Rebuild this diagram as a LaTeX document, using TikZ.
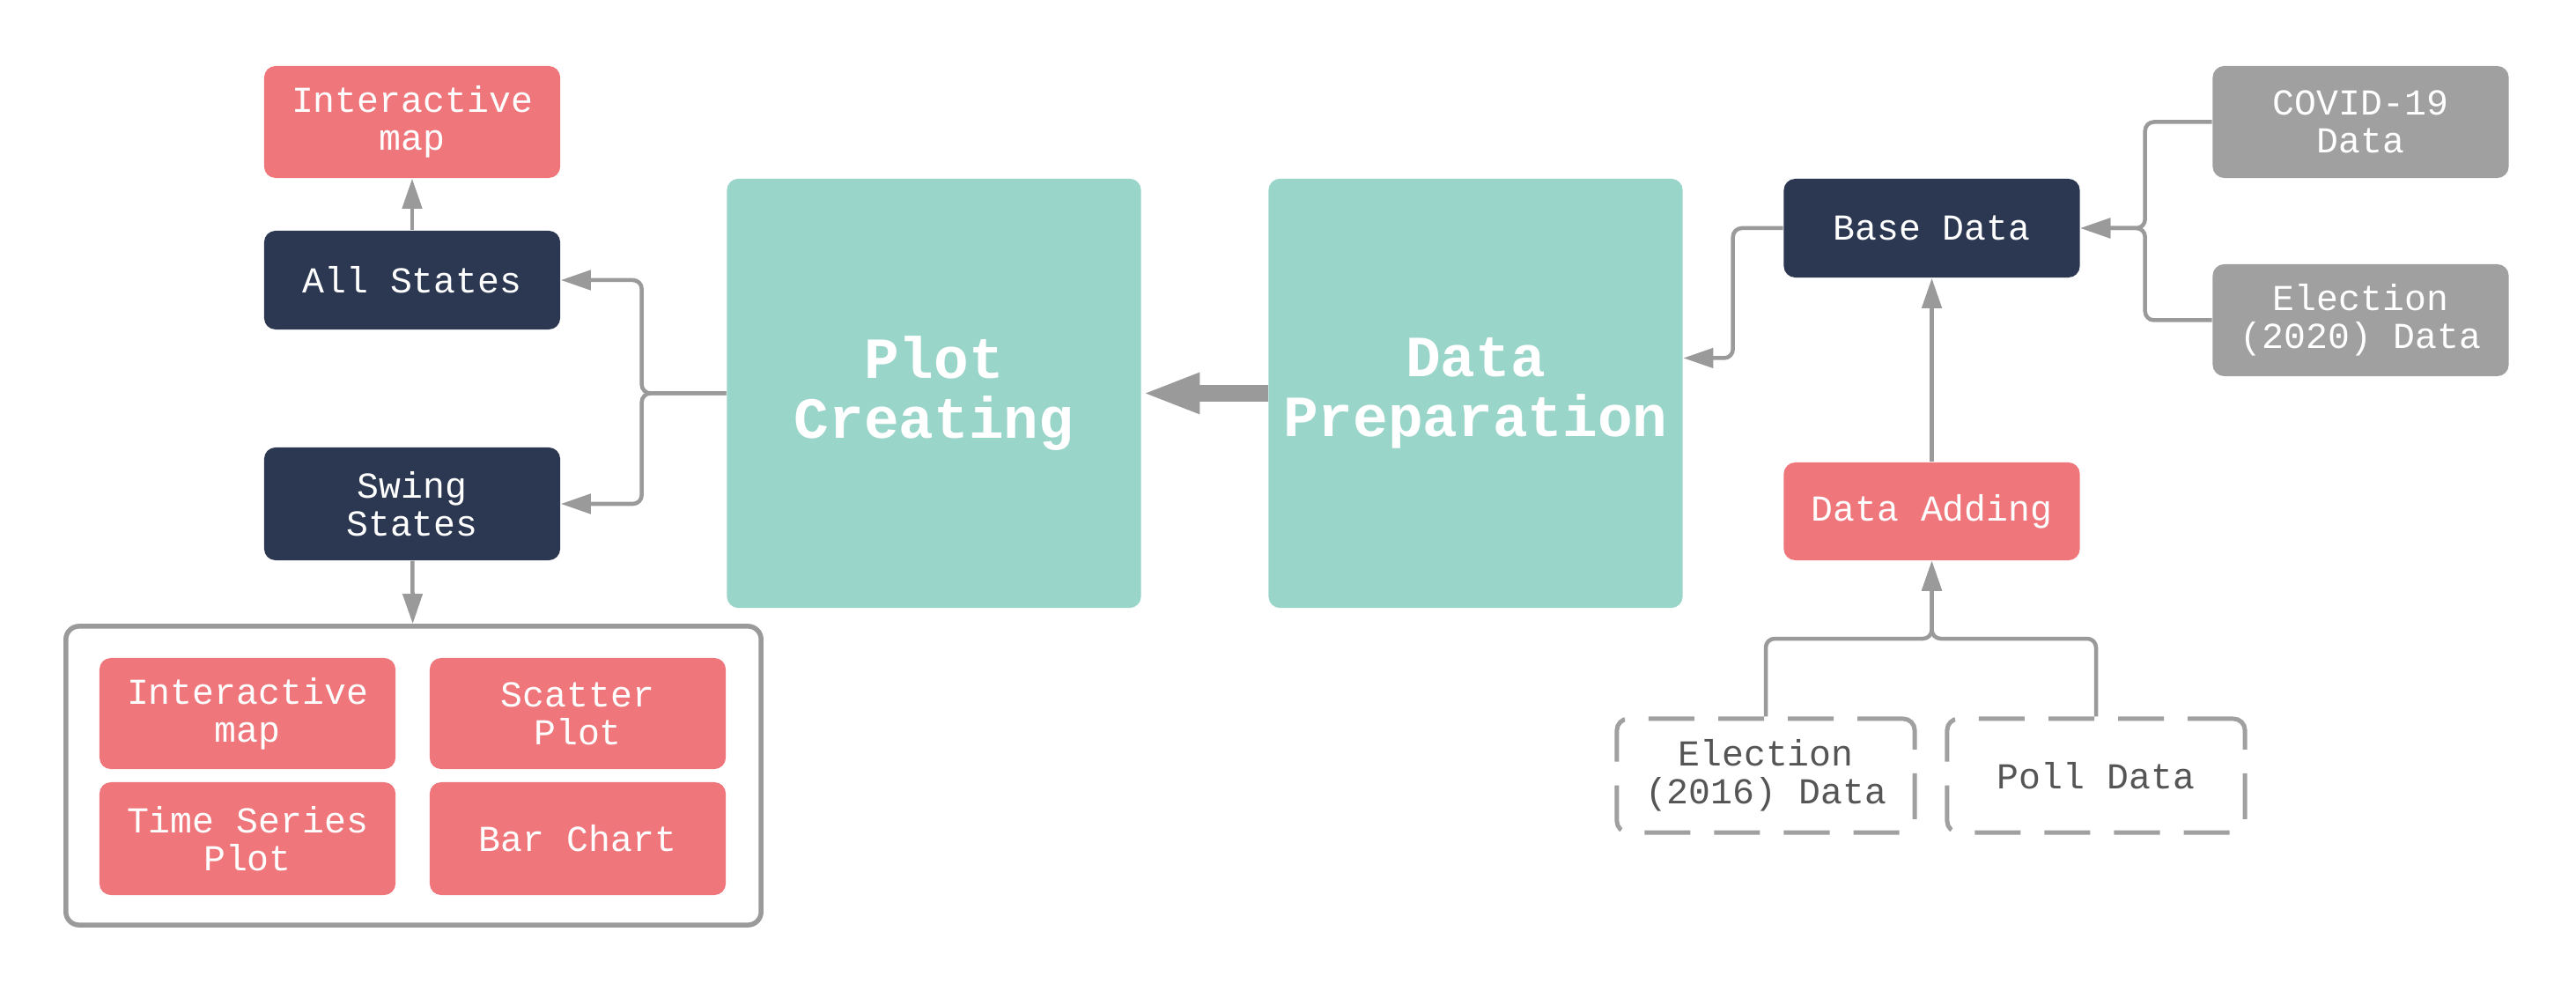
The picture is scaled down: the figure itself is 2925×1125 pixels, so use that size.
\documentclass[tikz,border=0pt]{standalone}
\usepackage{tikz}
\usetikzlibrary{arrows.meta}
\usepackage{xcolor}
\definecolor{coral}{HTML}{EF767B}
\definecolor{navy}{HTML}{2C3852}
\definecolor{mint}{HTML}{9AD5CA}
\definecolor{ash}{HTML}{A0A0A0}
\definecolor{wire}{HTML}{9A9A9A}
\definecolor{ink}{HTML}{555555}
\usepackage{fontspec}
\newfontfamily\boxfont{Liberation Mono}

\begin{document}
\begin{tikzpicture}[x=0.01cm,y=-0.01cm,
	card/.style={rounded corners=0.13cm,minimum width=3.36cm,inner sep=0pt,align=center,text=white,font=\boxfont\fontsize{11.8}{12.3}\selectfont},
	coralbox/.style={card,fill=coral},
	navybox/.style={card,fill=navy},
	ashbox/.style={card,fill=ash,minimum height=1.27cm},
	dashbox/.style={card,text=ink,draw=ash,line width=0.05cm,dash pattern=on 0.52cm off 0.27cm,minimum width=3.38cm,minimum height=1.29cm},
	bigbox/.style={rounded corners=0.13cm,fill=mint,minimum width=4.7cm,minimum height=4.87cm,inner sep=0pt,align=center,text=white,font=\boxfont\bfseries\fontsize{18.8}{19.4}\selectfont},
	conn/.style={draw=wire,line width=0.045cm,rounded corners=0.1cm,-{Triangle[length=0.34cm,width=0.22cm]}}]
		\useasboundingbox (0,0) rectangle (2925,1125);
		%
		\node[coralbox,minimum height=1.27cm] (imap) at (468,138.5) {Interactive\\map};
		\node[navybox,minimum height=1.12cm] (allst) at (468,318) {All States};
		\node[navybox,minimum height=1.28cm] (swing) at (468,572) {Swing\\States};
		%
		\node[draw=wire,line width=0.055cm,rounded corners=0.15cm,fill=white,minimum width=7.89cm,minimum height=3.39cm] (group) at (469.5,880.5) {};
		\node[coralbox,minimum height=1.26cm] (gmap) at (281,810) {Interactive\\map};
		\node[coralbox,minimum height=1.26cm] (gscatter) at (656,810) {Scatter\\Plot};
		\node[coralbox,minimum height=1.28cm] (gtime) at (281,952) {Time Series\\Plot};
		\node[coralbox,minimum height=1.28cm] (gbar) at (656,952) {Bar Chart};
		%
		\node[bigbox] (plot) at (1060.5,446.5) {Plot\\Creating};
		\node[bigbox] (prep) at (1675.5,446.5) {Data\\Preparation};
		%
		\node[navybox,minimum height=1.12cm] (base) at (2193.5,259) {Base Data};
		\node[coralbox,minimum height=1.11cm] (add) at (2193.5,580.5) {Data Adding};
		\node[ashbox] (covid) at (2680.5,138.5) {COVID-19\\Data};
		\node[ashbox] (e20) at (2680.5,363.5) {Election\\(2020) Data};
		\node[dashbox] (e16) at (2005,880.5) {Election\\(2016) Data};
		\node[dashbox] (poll) at (2380,880.5) {Poll Data};
		\coordinate (merge) at (2193.5,725);
		%
		\draw[conn] (allst) -- (imap);
		\draw[conn] (swing) -- (group);
		\draw[conn] (plot.west) -- ++(-96,0) |- (allst.east);
		\draw[conn] (plot.west) -- ++(-96,0) |- (swing.east);
		\draw[wire,line width=0.19cm,-{Triangle[length=0.66cm,width=0.42cm]}] (prep.west) -- (plot.east);
		\draw[conn] (base.west) -- ++(-57,0) |- ([yshift=0.4cm]prep.east);
		\draw[conn] (covid.west) -- ++(-76,0) |- (base.east);
		\draw[conn] (e20.west) -- ++(-76,0) |- (base.east);
		\draw[conn] (add) -- (base);
		\draw[conn] (e16.north) |- (merge) -- (add.south);
		\draw[conn] (poll.north) |- (merge) -- (add.south);
	\end{tikzpicture}
\end{document}
